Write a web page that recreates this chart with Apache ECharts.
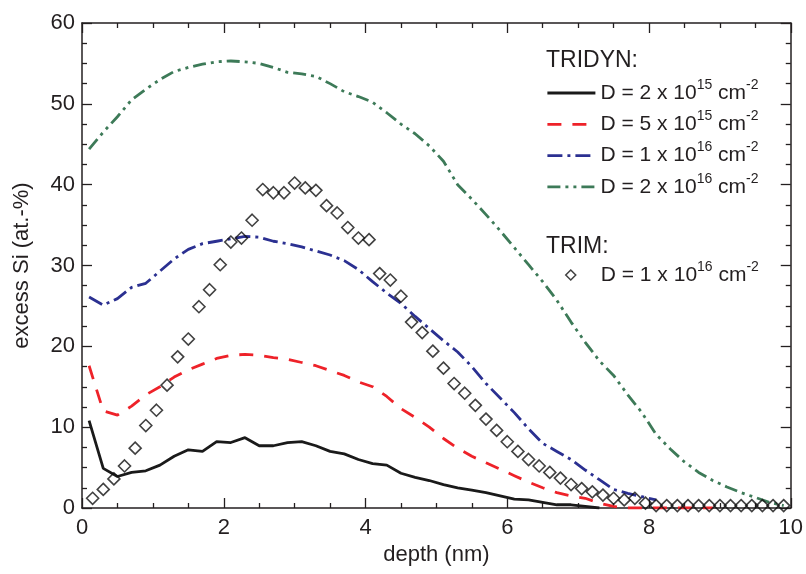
<!DOCTYPE html>
<html><head><meta charset="utf-8">
<script src="https://cdn.jsdelivr.net/npm/echarts@6/dist/echarts.min.js"></script>
<style>html,body{margin:0;padding:0;background:#fff}#c{width:806px;height:574px}</style>
</head><body><div id="c"></div>
<script>
// depth grid of TRIDYN profiles (nm)
const depth = [0.1,0.3,0.5,0.7,0.9,1.1,1.3,1.5,1.7,1.9,2.1,2.3,2.5,2.7,2.9,3.1,3.3,3.5,3.7,3.9,
  4.1,4.3,4.5,4.7,4.9,5.1,5.3,5.5,5.7,5.9,6.1,6.3,6.5,6.7,6.9,7.1,7.3,7.5,7.7,7.9,
  8.1,8.3,8.5,8.7,8.9,9.1,9.3,9.5,9.7,9.9];
// TRIDYN, D = 2e15 cm^-2
const tridyn2e15 = [10.8,4.9,3.9,4.4,4.6,5.3,6.4,7.2,7.0,8.2,8.1,8.7,7.7,7.7,8.1,8.2,7.7,7.0,6.7,6.0,
  5.5,5.3,4.3,3.8,3.4,2.9,2.5,2.2,1.9,1.5,1.1,1.0,0.7,0.4,0.4,0.2,0.0];
// TRIDYN, D = 5e15 cm^-2
const tridyn5e15 = [17.6,12.0,11.5,12.6,14.0,15.0,16.2,17.1,17.8,18.5,18.9,19.0,18.9,18.6,18.4,18.0,17.6,17.0,16.4,15.6,
  15.0,13.8,12.3,11.2,10.0,8.6,7.4,6.4,5.6,4.8,4.0,3.2,2.5,1.9,1.5,1.2,0.6,0.2,0.0,0.0,
  0.0,0.0,0.0,0.0,0.0];
// TRIDYN, D = 1e16 cm^-2
const tridyn1e16 = [26.1,25.1,25.9,27.3,27.8,29.3,30.8,32.0,32.7,33.0,33.3,33.6,33.5,33.0,32.7,32.3,31.8,31.3,30.6,29.5,
  28.0,26.6,25.3,23.7,22.2,20.7,19.3,17.5,15.4,13.6,11.8,9.8,8.0,7.0,6.0,4.7,3.5,2.3,1.8,1.4,1.0];
// TRIDYN, D = 2e16 cm^-2
const tridyn2e16 = [44.4,46.5,48.4,50.5,51.8,53.0,54.0,54.5,54.9,55.2,55.3,55.2,55.0,54.5,53.9,53.7,53.4,52.5,51.5,50.9,
  50.2,48.9,47.5,46.3,44.8,42.9,40.0,38.2,36.3,34.3,32.2,30.1,28.0,25.7,23.0,20.5,18.2,16.4,14.0,11.8,
  9.1,7.3,5.7,4.4,3.4,2.6,1.9,1.3,0.7,0.3];
// TRIM, D = 1e16 cm^-2
const trimDepth = [0.15,0.30,0.45,0.60,0.75,0.90,1.05,1.20,1.35,1.50,1.65,1.80,1.95,2.10,2.25,2.40,2.55,2.70,2.85,3.00,
  3.15,3.30,3.45,3.60,3.75,3.90,4.05,4.20,4.35,4.50,4.65,4.80,4.95,5.10,5.25,5.40,5.55,5.70,5.85,6.00,
  6.15,6.30,6.45,6.60,6.75,6.90,7.05,7.20,7.35,7.50,7.65,7.80,7.95,8.10,8.25,8.40,8.55,8.70,8.85,9.00,
  9.15,9.30,9.45,9.60,9.75,9.90];
const trim1e16 = [1.2,2.3,3.6,5.2,7.4,10.2,12.1,15.2,18.7,20.9,24.9,27.0,30.1,32.9,33.4,35.6,39.4,39.0,39.0,40.2,
  39.6,39.3,37.4,36.5,34.7,33.4,33.2,29.0,28.2,26.2,23.0,21.7,19.4,17.3,15.4,14.2,12.7,11.0,9.6,8.2,
  7.0,6.0,5.2,4.4,3.7,2.9,2.4,2.0,1.6,1.2,1.0,1.2,0.6,0.3,0.3,0.3,0.3,0.3,0.3,0.3,
  0.3,0.3,0.3,0.3,0.3,0.3];

const legendLabels = {
  'D2e15': 'D = 2 x 10{sup|15} cm{sup|-2}',
  'D5e15': 'D = 5 x 10{sup|15} cm{sup|-2}',
  'D1e16': 'D = 1 x 10{sup|16} cm{sup|-2}',
  'D2e16': 'D = 2 x 10{sup|16} cm{sup|-2}',
  'TRIM1e16': '{sp|}D = 1 x 10{sup|16} cm{sup|-2}'
};

const pair = (xs, ys) => ys.map((y, i) => [xs[i], y]);
const FONT = "'Liberation Sans', Arial, sans-serif";
const TXT = '#231f20';

const chart = echarts.init(document.getElementById('c'), null, {renderer: 'canvas'});

const axisCommon = {
  axisLine: {show: true, onZero: false, lineStyle: {color: TXT, width: 1.5}},
  axisTick: {show: true, inside: true, length: 10, lineStyle: {color: TXT, width: 1.3}},
  minorTick: {show: true, splitNumber: 4, length: 5, lineStyle: {color: TXT, width: 1.3}},
  splitLine: {show: false}
};

const legendText = {
  fontFamily: FONT, fontSize: 21, color: TXT, lineHeight: 30,
  rich: {
    sup: {fontFamily: FONT, fontSize: 14, color: TXT, lineHeight: 6, verticalAlign: 'top'},
    sp: {width: 20}
  }
};

function lineSeries(name, ys, color, type) {
  return {
    name, type: 'line', data: pair(depth, ys), symbol: 'none', showSymbol: false,
    lineStyle: {color, width: 2.8, type}, itemStyle: {color}, z: 2, animation: false
  };
}

chart.setOption({
  animation: false,
  backgroundColor: '#fff',
  grid: {left: 82, right: 14, top: 23, bottom: 66},
  xAxis: [
    Object.assign({type: 'value', position: 'bottom', min: 0, max: 10, interval: 2,
      name: 'depth (nm)', nameLocation: 'middle', nameGap: 33,
      nameTextStyle: {fontFamily: FONT, fontSize: 22, color: TXT},
      axisLabel: {fontFamily: FONT, fontSize: 22, color: TXT, margin: 9}}, axisCommon),
    Object.assign({type: 'value', position: 'top', min: 0, max: 10, interval: 2,
      axisLabel: {show: false}}, axisCommon)
  ],
  yAxis: [
    Object.assign({type: 'value', position: 'left', min: 0, max: 60, interval: 10,
      name: 'excess Si (at.-%)', nameLocation: 'middle', nameGap: 49,
      nameTextStyle: {fontFamily: FONT, fontSize: 22, color: TXT},
      axisLabel: {fontFamily: FONT, fontSize: 22, color: TXT, margin: 7}}, axisCommon),
    Object.assign({type: 'value', position: 'right', min: 0, max: 60, interval: 10,
      axisLabel: {show: false}}, axisCommon)
  ],
  legend: [
    {
      orient: 'vertical', left: 541, top: 73, itemWidth: 48, itemHeight: 14, itemGap: 1.3,
      selectedMode: false, data: ['D2e15', 'D5e15', 'D1e16', 'D2e16'],
      formatter: n => legendLabels[n], textStyle: legendText,
      lineStyle: {width: 2.8},
      itemStyle: {color: 'rgba(0,0,0,0)', borderWidth: 0, borderColor: 'rgba(0,0,0,0)'}
    },
    {
      orient: 'vertical', left: 560, top: 255, itemWidth: 10, itemHeight: 10,
      selectedMode: false, data: ['TRIM1e16'],
      formatter: n => legendLabels[n], textStyle: legendText,
      itemStyle: {borderWidth: 1.5}
    }
  ],
  graphic: [
    {type: 'text', left: 546, top: 49, style: {text: 'TRIDYN:', font: '23px ' + FONT, fill: TXT}},
    {type: 'text', left: 546, top: 235, style: {text: 'TRIM:', font: '23px ' + FONT, fill: TXT}}
  ],
  series: [
    lineSeries('D2e15', tridyn2e15, '#1a1a1a', 'solid'),
    lineSeries('D5e15', tridyn5e15, '#ee2229', [14, 11]),
    lineSeries('D1e16', tridyn1e16, '#2b3091', [15, 5, 3, 5]),
    lineSeries('D2e16', tridyn2e16, '#3d7a58', [13, 5, 3, 5, 3, 5]),
    {
      name: 'TRIM1e16', type: 'scatter', data: pair(trimDepth, trim1e16),
      symbol: 'diamond', symbolSize: 12, z: 3,
      itemStyle: {color: 'rgba(255,255,255,0)', borderColor: '#111', borderWidth: 1.6}
    }
  ]
});
</script>
</body></html>
